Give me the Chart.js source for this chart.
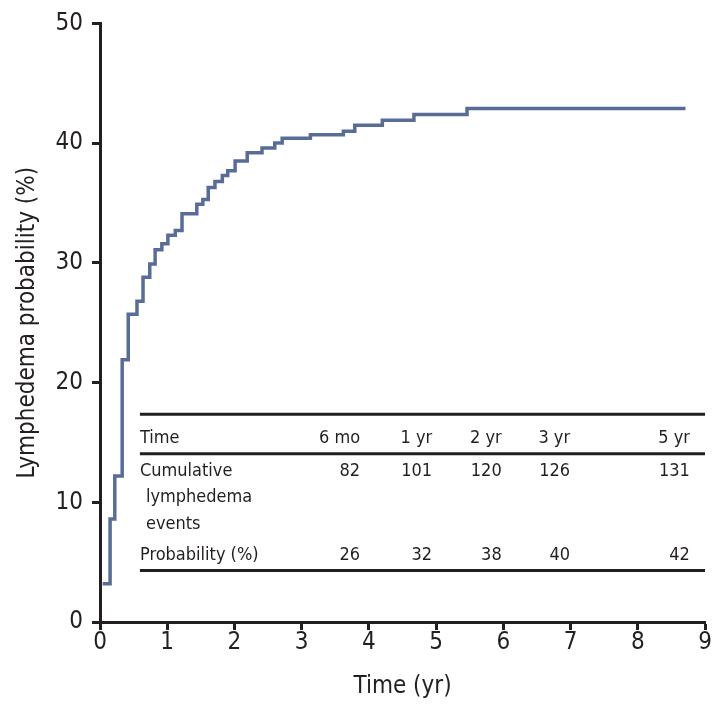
<!DOCTYPE html>
<html>
<head>
<meta charset="utf-8">
<script src="https://cdn.jsdelivr.net/npm/chart.js@4"></script>
<style>
  body { margin: 0; background: #fff; }
</style>
</head>
<body>
<canvas id="kmChart" width="724" height="710"></canvas>
<script>
// step curve: time (yr) where each step starts, and probability (%)
const stepTimes = [0.04, 0.15, 0.22, 0.33, 0.42, 0.55, 0.64, 0.74, 0.82, 0.92, 1.01, 1.12, 1.22, 1.44, 1.53, 1.61, 1.71, 1.82, 1.90, 2.01, 2.19, 2.41, 2.60, 2.71, 3.13, 3.62, 3.79, 4.20, 4.67, 5.46, 8.71];
const stepProbs = [3.2, 8.6, 12.2, 21.9, 25.7, 26.8, 28.8, 29.9, 31.1, 31.6, 32.3, 32.7, 34.1, 34.9, 35.3, 36.3, 36.8, 37.3, 37.7, 38.5, 39.2, 39.6, 40.0, 40.4, 40.7, 41.0, 41.5, 41.9, 42.4, 42.9, 42.9];

// inset table
const tableTimes = ['6 mo', '1 yr', '2 yr', '3 yr', '5 yr'];
const cumulativeEvents = [82, 101, 120, 126, 131];
const probabilities = [26, 32, 38, 40, 42];

const FONT = "'Liberation Sans Narrow', 'DejaVu Sans Condensed', 'Arial Narrow', sans-serif";
const INK = '#231f20';

const insetTable = {
    id: 'insetTable',
    afterDraw(chart) {
        const c = chart.ctx;
        const a = chart.chartArea;
        const w = a.right - a.left, h = a.bottom - a.top;
        const px = f => a.left + f * w;
        const py = f => a.top + f * h;
        const colRight = [0.43, 0.549, 0.664, 0.777, 0.975];

        c.save();
        c.strokeStyle = INK;
        c.lineWidth = 3;
        [0.653, 0.719, 0.914].forEach(f => {
            c.beginPath();
            c.moveTo(px(0.066), py(f));
            c.lineTo(px(1.0), py(f));
            c.stroke();
        });

        c.fillStyle = INK;
        c.font = '18px ' + FONT;
        c.textBaseline = 'middle';
        c.textAlign = 'left';
        c.fillText('Time', px(0.066), py(0.693));
        c.fillText('Cumulative', px(0.066), py(0.749));
        c.fillText('lymphedema', px(0.066) + 6, py(0.792));
        c.fillText('events', px(0.066) + 6, py(0.836));
        c.fillText('Probability (%)', px(0.066), py(0.889));

        c.textAlign = 'right';
        tableTimes.forEach((t, i) => {
            c.fillText(t, px(colRight[i]), py(0.693));
            c.fillText(String(cumulativeEvents[i]), px(colRight[i]), py(0.749));
            c.fillText(String(probabilities[i]), px(colRight[i]), py(0.889));
        });
        c.restore();
    }
};

const ctx = document.getElementById('kmChart').getContext('2d');
const kmChart = new Chart(ctx, {
    type: 'line',
    data: {
        datasets: [{
            label: 'Lymphedema probability',
            data: stepTimes.map((t, i) => ({ x: t, y: stepProbs[i] })),
            stepped: 'before',
            borderColor: 'rgb(88, 108, 152)',
            borderWidth: 3.5,
            pointRadius: 0,
            fill: false
        }]
    },
    options: {
        responsive: false,
        animation: false,
        layout: { padding: { top: 20, right: 19, left: 0, bottom: 0 } },
        plugins: {
            legend: { display: false },
            tooltip: { enabled: false }
        },
        scales: {
            x: {
                type: 'linear',
                min: 0,
                max: 9,
                afterFit: scale => { scale.height = 88; },
                ticks: { stepSize: 1, color: INK, padding: -2, font: { family: FONT, size: 24 } },
                grid: { drawOnChartArea: false, drawTicks: true, tickLength: 8, tickWidth: 3, tickColor: INK },
                border: { display: true, width: 3, color: INK },
                title: { display: true, text: 'Time (yr)', color: INK, padding: { top: 0, bottom: 9 }, font: { family: FONT, size: 24 } }
            },
            y: {
                min: 0,
                max: 50,
                afterFit: scale => { scale.width = 100; },
                ticks: { stepSize: 10, color: INK, padding: 9, font: { family: FONT, size: 24 } },
                grid: { drawOnChartArea: false, drawTicks: true, tickLength: 8, tickWidth: 3, tickColor: INK },
                border: { display: true, width: 3, color: INK },
                title: { display: true, text: 'Lymphedema probability (%)', color: INK, padding: { top: 13, bottom: 0 }, font: { family: FONT, size: 24 } }
            }
        }
    },
    plugins: [insetTable]
});
</script>
</body>
</html>
